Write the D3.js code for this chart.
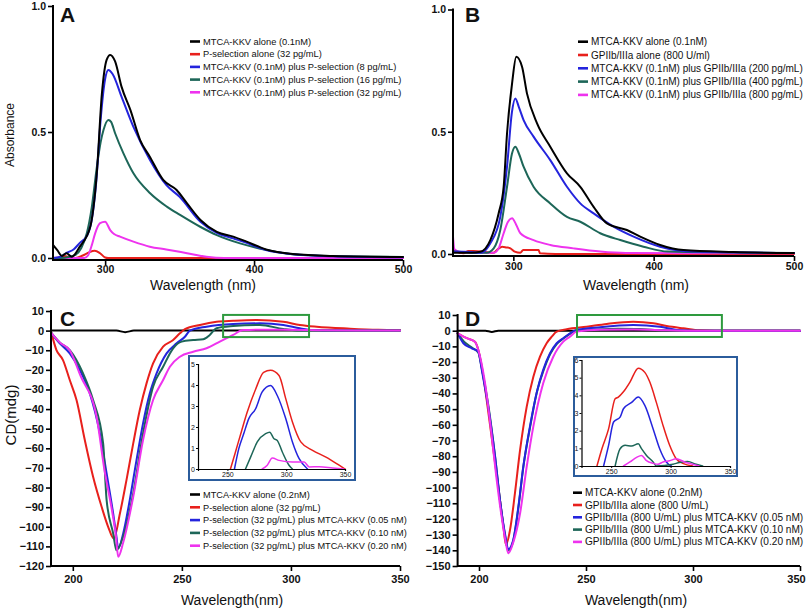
<!DOCTYPE html>
<html><head><meta charset="utf-8">
<script src="https://cdn.jsdelivr.net/npm/d3@7"></script>
<style>body{margin:0;background:#fff} text{font-family:"Liberation Sans",Arial,sans-serif;fill:#111}</style>
</head><body><svg id="c" width="807" height="612"></svg>
<script>
// ---------- DATA ----------
const colors = ["#000000","#e8201c","#2424dd","#1d6658","#ee33ee"];

const legendA = ["MTCA-KKV alone (0.1nM)","P-selection alone (32 pg/mL)","MTCA-KKV (0.1nM) plus P-selection (8 pg/mL)","MTCA-KKV (0.1nM) plus P-selection (16 pg/mL)","MTCA-KKV (0.1nM) plus P-selection (32 pg/mL)"];
const legendB = ["MTCA-KKV alone (0.1nM)","GPIIb/IIIa alone (800 U/ml)","MTCA-KKV (0.1nM) plus GPIIb/IIIa (200 pg/mL)","MTCA-KKV (0.1nM) plus GPIIb/IIIa (400 pg/mL)","MTCA-KKV (0.1nM) plus GPIIb/IIIa (800 pg/mL)"];
const legendC = ["MTCA-KKV alone (0.2nM)","P-selection alone (32 pg/mL)","P-selection (32 pg/mL) plus MTCA-KKV (0.05 nM)","P-selection (32 pg/mL) plus MTCA-KKV (0.10 nM)","P-selection (32 pg/mL) plus MTCA-KKV (0.20 nM)"];
const legendD = ["MTCA-KKV alone (0.2nM)","GPIIb/IIIa alone (800 U/mL)","GPIIb/IIIa (800 U/mL) plus MTCA-KKV (0.05 nM)","GPIIb/IIIa (800 U/mL) plus MTCA-KKV (0.10 nM)","GPIIb/IIIa (800 U/mL) plus MTCA-KKV (0.20 nM)"];

const ticksAbsX = [300,400,500];
const ticksAbsY = [0,0.5,1.0];
const ticksCDX = [200,250,300,350];
const ticksCY = d3.range(-120,11,10);
const ticksDY = d3.range(-150,11,10);
const ticksInsetX = [250,300,350];
const ticksInsetCY = [0,1,2,3,4,5];
const ticksInsetDY = [0,1,2,3,4,5,6];

// Panel A (absorbance)
const aBlack = [[265,0.052],[268,0.03],[271,0.008],[274,0.019],[277.6,0.005],[283,0.045],[290,0.124],[294.4,0.336],[297.8,0.65],[301,0.786],[303.4,0.806],[306.7,0.78],[311,0.68],[317,0.587],[323.5,0.468],[330,0.402],[339,0.31],[348,0.27],[355,0.217],[364,0.151],[375,0.104],[386,0.085],[395,0.065],[408,0.034],[426,0.016],[453,0.008],[500,0.004]];
const aRed = [[265,0],[270,0.002],[273,0.008],[276,0.002],[280,0],[285,0.01],[289,0.022],[293,0.029],[296.6,0.019],[300,0.002],[302,0],[500,0]];
const aBlue = [[265,0],[270,0.005],[274,0.02],[279,0.035],[283,0.06],[288,0.09],[291,0.15],[294,0.3],[297,0.55],[300,0.71],[302.2,0.746],[305,0.73],[311,0.64],[319,0.52],[330,0.39],[341,0.29],[350,0.243],[364,0.144],[375,0.1],[386,0.078],[395,0.06],[408,0.032],[426,0.015],[453,0.007],[500,0.003]];
const aTeal = [[265,0],[271,0],[276,0.005],[280,0.012],[284,0.04],[287.7,0.098],[291,0.2],[294.4,0.36],[297,0.46],[298.9,0.508],[302.2,0.548],[304,0.54],[306.7,0.495],[312.3,0.415],[319,0.336],[330.2,0.257],[341.4,0.204],[350.3,0.171],[363.8,0.124],[375,0.091],[390.6,0.058],[408.5,0.032],[431,0.012],[500,0.004]];
const aMagenta = [[265,0],[286,0],[288.5,0.01],[291,0.05],[293.3,0.098],[296.6,0.138],[300,0.144],[303.4,0.111],[306,0.095],[310,0.085],[319,0.065],[330,0.045],[341,0.034],[355,0.019],[368,0.005],[380,0],[500,0]];

// Panel B (absorbance)
const bBlack = [[257,0.005],[270,0.005],[276.5,0.009],[283.6,0.057],[289.5,0.166],[293.1,0.275],[295.5,0.493],[299.1,0.698],[302.1,0.807],[306.2,0.766],[309.7,0.657],[316.9,0.534],[326.3,0.439],[338.2,0.33],[347.7,0.275],[357.2,0.193],[366.7,0.125],[380.9,0.098],[390.4,0.071],[404.6,0.037],[421.2,0.016],[456.8,0.008],[500,0.004]];
const bRed = [[257,0.02],[258.7,0.012],[264.6,0.003],[268,0.012],[271.7,0.012],[278.9,0.009],[286,0.005],[289,0.02],[292,0.03],[295,0.027],[297.9,0.023],[301,0.01],[305,0.005],[307,0.016],[318,0.016],[319,0.003],[330,0],[500,0]];
const bBlue = [[257,0.01],[270,0.008],[276,0.005],[278.9,0.01],[283.6,0.044],[290.7,0.152],[295.5,0.357],[299,0.58],[301.4,0.636],[304,0.6],[307.3,0.548],[314.4,0.48],[326.3,0.384],[338.2,0.275],[347.7,0.207],[357.2,0.166],[371.4,0.112],[385.7,0.071],[404.6,0.03],[430,0.01],[500,0.004]];
const bTeal = [[257,0.01],[276,0.005],[281,0.005],[286,0.023],[290.7,0.098],[295.5,0.275],[299,0.41],[301.4,0.439],[304,0.41],[307.3,0.357],[314.4,0.275],[326.3,0.207],[338.2,0.152],[347.7,0.132],[361.9,0.085],[376.2,0.057],[392.7,0.03],[410,0.01],[500,0.004]];
const bMagenta = [[257,0.07],[258,0.02],[262,0.008],[275,0.005],[286,0.005],[289.5,0.023],[293.1,0.085],[296,0.13],[299.1,0.146],[302,0.12],[305,0.085],[314.4,0.057],[326.3,0.037],[342.9,0.023],[361.9,0.01],[380,0.004],[500,0.003]];

// Panel C (CD)
const cBlack = [[190,0],[220,0],[224,-0.8],[228,0],[350,0]];
const cRed = [[190,-0.5],[192.5,-9.9],[195.5,-15],[198.6,-25.2],[201.7,-35.4],[205.5,-55.8],[209.3,-74.5],[213.2,-89.8],[216.2,-100],[218.8,-106],[221.6,-93.2],[224.6,-76.2],[227.7,-57.5],[230.7,-40.5],[233.8,-26.9],[236.8,-16.7],[241.4,-8.2],[246,-4.8],[249.1,-1.4],[251.4,0.7],[258.3,2.9],[265.9,4.5],[273.5,5],[284.3,5.4],[296.5,4.5],[304.1,2.9],[311.8,2],[327.1,1],[340,0.4],[350,0.2]];
const cBlue = [[190,-1],[194,-6.5],[198.6,-11.6],[203.2,-20.1],[207.8,-32],[212.4,-52.4],[215.5,-72.8],[218.5,-93.2],[220,-105],[220.8,-111],[223.1,-103.4],[226.1,-86.4],[229.2,-66],[232.2,-47.3],[235.3,-32],[238.4,-21.8],[243,-11.6],[247.6,-6.5],[251.4,-3.1],[253.7,0],[261.3,2],[273.5,3.4],[285.8,3.7],[296.5,2.9],[304.1,1.2],[310,0.3],[320,0],[350,0]];
const cTeal = [[190,-1],[194,-6],[198.6,-9.9],[204.7,-21.8],[209.3,-35.4],[213.9,-57.5],[215.5,-86.4],[218.5,-103.4],[220,-112],[223.1,-105],[227.7,-83],[232.2,-52.4],[236.8,-28.6],[241.4,-18.4],[246,-9],[249.9,-5.6],[255.2,-4.8],[259.8,-4.4],[262.8,-2.2],[265.9,1.2],[273.5,2.3],[285.8,2.9],[296.5,0.8],[304.1,0],[350,0]];
const cMagenta = [[190,-1],[194,-6],[198.6,-10],[203.5,-23],[210.9,-43.9],[214.5,-71],[218,-92],[219.8,-105],[220.8,-115.3],[223.1,-108],[227.7,-84.7],[232.2,-55.8],[236.8,-35.4],[241.4,-25.2],[244.5,-18.4],[249.1,-13.3],[255.2,-10.8],[261.3,-9],[267.4,-5.6],[273.5,-2.2],[278.1,0.3],[285.8,0.5],[296.5,0.4],[307,0.3],[330,0.1],[350,0]];

// Panel D (CD)
const dBlack = [[190,0],[203,0],[206,-0.8],[209,0],[350,0]];
const dRed = [[190,-1.7],[194.3,-4.8],[198.1,-7],[199.7,-12.3],[201.3,-22.9],[203.6,-44.2],[206.7,-76],[209,-99.4],[211.4,-124.9],[212.6,-136.6],[214.5,-127],[216.8,-103.6],[219.2,-76],[222.3,-48.4],[225.4,-29.3],[228.5,-16.6],[231.6,-8],[234,-3.8],[236.3,-0.6],[241,0.9],[250.3,2.5],[259.7,4.3],[272.1,5.7],[281.5,4.7],[287.7,3],[295.5,1.5],[303.3,0.2],[310,0],[350,0]];
const dBlue = [[190,-1.7],[192.7,-8],[196.6,-11.2],[199.7,-13.4],[201.3,-25],[204.3,-48.4],[207.5,-80.3],[209.8,-107.9],[212.1,-129.1],[213.7,-139.3],[216,-133.4],[218.4,-112.2],[220.7,-86.7],[223.8,-61.2],[226.9,-39.9],[230,-25],[233.2,-14.4],[236.3,-8],[239.4,-4.8],[242.5,-1.7],[244.9,0.2],[256.5,2.2],[272.1,3.6],[284.6,2.5],[292.4,0.5],[300,0],[350,0]];
const dTeal = [[190,-1.7],[193,-7],[197,-11],[199.7,-14],[201.3,-24],[204.3,-47],[207.5,-80],[209.8,-108],[212.1,-130],[213.7,-140],[216,-134],[218.4,-113],[220.7,-87],[223.8,-62],[226.9,-40],[230,-26],[233.2,-15],[236.3,-8.5],[239.4,-5],[242.5,-2],[245,0],[255,0.8],[265,1.2],[275,1.1],[285,0.3],[295,0],[350,0]];
const dMagenta = [[190,-1.7],[194.3,-4.8],[198.1,-7],[200.5,-16.6],[203,-35],[205.5,-62],[208,-92],[210.5,-118],[212.5,-135],[213.7,-141.9],[216,-135],[219.2,-116.4],[222.3,-86.7],[225.4,-61],[230,-33.5],[234.7,-16.6],[239.4,-7],[242.5,-3.8],[245.6,-0.6],[256.5,0.6],[272.1,0.7],[287.7,0.3],[300,0],[350,0]];

// Insets (zoom of positive CD band)
const icRed = [[252.6,0],[256.8,0.8],[262,1.8],[266.8,2.7],[274,3.8],[280.8,4.6],[286.7,4.7],[293.9,4.45],[299.6,3.35],[305.3,2.24],[312.4,1.29],[322.4,0.89],[333.8,0.57],[345,0.18],[350,0]];
const icBlue = [[256,0],[259.7,0.97],[264,1.7],[268.2,2.4],[274,2.87],[279.6,3.67],[286.7,3.98],[292.4,3.5],[299.6,2.4],[305.3,1.29],[311,0.49],[318.1,0]];
const icTeal = [[265.4,0],[270,0.6],[275.4,1.29],[282.5,1.68],[286,1.75],[289.6,1.44],[292.4,1.36],[296.7,0.81],[302.4,0.18],[305.3,0]];
const icMagenta = [[279.6,0],[283.9,0.18],[288.2,0.52],[294,0.41],[305.3,0.33],[315.3,0.33],[319.6,0.1],[328.1,0.11],[339.5,0.05],[349,0]];
const idRed = [[238,0],[242.2,0.98],[247.8,2.1],[253.3,3.8],[256,3.9],[260.3,4.2],[265.8,4.75],[272.8,5.54],[278.3,5.3],[282.5,4.75],[288,3.6],[293.6,2.3],[299.2,1.17],[304.7,0.41],[310.3,0.15],[318.6,0]];
const idBlue = [[243.6,0],[247.8,1.17],[252,2.49],[257.5,2.77],[260.3,3.24],[267.2,3.6],[272.8,3.9],[278.3,3.43],[285.3,2.1],[290.8,0.98],[296.4,0.23],[300.6,0]];
const idTeal = [[253.3,0],[257.5,0.98],[261.7,1.17],[267.2,1.13],[272.8,1.26],[275.5,0.98],[279.7,0.6],[285.3,0.23],[288,0],[302,0.1],[307.5,0.2],[314.4,0.25],[321.4,0.1],[327,0]];
const idMagenta = [[260.3,0],[265.8,0.23],[271.4,0.49],[275.5,0.6],[279.7,0.3],[285.3,0.15],[289.4,0.1],[293.6,0.23],[299.2,0.3],[304.7,0.41],[311.7,0.23],[318.6,0.1],[324,0]];

// ---------- DRAWING ----------
const svg = d3.select("#c");

function drawLine(g, x, y, data, color, w){
  g.append("path").datum(data)
    .attr("d", d3.line().x(d=>x(d[0])).y(d=>y(d[1])).curve(d3.curveMonotoneX))
    .attr("fill","none").attr("stroke",color).attr("stroke-width",w)
    .attr("stroke-linejoin","round").attr("stroke-linecap","round");
}

function styleAxis(g, fs){
  g.select(".domain").remove();
  g.selectAll(".tick line").attr("stroke","#000").attr("stroke-width",1.6);
  g.selectAll(".tick text").style("font-size",fs+"px").style("font-weight","bold").attr("fill","#1a1a1a");
}

function panel(o){
  const g = svg.append("g");
  const x = d3.scaleLinear().domain(o.xd).range(o.xr);
  const y = d3.scaleLinear().domain(o.yd).range(o.yr);
  const axY = o.axisY;
  o.order.forEach(i => drawLine(g, x, y, o.series[i], colors[i], 2));
  const gx = g.append("g").attr("transform",`translate(0,${axY})`)
    .call(d3.axisBottom(x).tickValues(o.xt).tickSize(5).tickPadding(o.xpad).tickFormat(d3.format("d")));
  styleAxis(gx, o.tfs);
  if (o.lastShift) gx.selectAll(".tick text").filter(d=>d===o.xt[o.xt.length-1]).attr("dx", o.lastShift);
  const gy = g.append("g").attr("transform",`translate(${o.xr[0]},0)`)
    .call(d3.axisLeft(y).tickValues(o.yt).tickSize(5).tickPadding(2).tickFormat(o.yf));
  styleAxis(gy, o.tfs);
  g.append("line").attr("x1",o.xr[0]).attr("x2",o.xr[1]).attr("y1",axY).attr("y2",axY).attr("stroke","#000").attr("stroke-width",2);
  g.append("line").attr("x1",o.xr[0]).attr("x2",o.xr[0]).attr("y1",axY+1).attr("y2",y(o.yd[1])-1).attr("stroke","#000").attr("stroke-width",2);
  g.append("text").attr("x",o.xtitle[0]).attr("y",o.xtitle[1]).attr("text-anchor","middle").style("font-size","14px").text(o.xlabel);
  if (o.ylabel) g.append("text").attr("transform",`translate(${o.ytitle[0]},${o.ytitle[1]}) rotate(-90)`).attr("text-anchor","middle").style("font-size",o.yfs+"px").text(o.ylabel);
  g.append("text").attr("x",o.letter[0]).attr("y",o.letter[1]).style("font-size","21px").style("font-weight","bold").attr("fill","#000").text(o.letterText);
  o.legend.forEach((t,i)=>{
    const yy = o.leg.y + i*o.leg.dy;
    g.append("line").attr("x1",o.leg.x).attr("x2",o.leg.x+o.leg.len).attr("y1",yy).attr("y2",yy).attr("stroke",colors[i]).attr("stroke-width",2.6);
    g.append("text").attr("x",o.leg.x+o.leg.len+3).attr("y",yy).attr("dy","0.35em").style("font-size",o.leg.fs+"px").text(t);
  });
  return {g,x,y};
}

function inset(o){
  const g = svg.append("g");
  g.append("rect").attr("x",o.box[0]).attr("y",o.box[1]).attr("width",o.box[2]).attr("height",o.box[3])
    .attr("fill","#fff").attr("stroke","#2b5c9c").attr("stroke-width",2);
  const x = d3.scaleLinear().domain(o.xd).range(o.xr);
  const y = d3.scaleLinear().domain(o.yd).range(o.yr);
  o.series.forEach((s,k)=> drawLine(g, x, y, s, colors[k+1], 1.5));
  const gx = g.append("g").attr("transform",`translate(0,${o.yr[0]})`)
    .call(d3.axisBottom(x).tickValues(ticksInsetX).tickSize(2).tickPadding(1).tickFormat(d3.format("d")));
  gx.select(".domain").attr("stroke","#000").attr("stroke-width",1.2);
  gx.selectAll(".tick text").style("font-size","7px").attr("fill","#222");
  const gy = g.append("g").attr("transform",`translate(${o.xr[0]},0)`)
    .call(d3.axisLeft(y).tickValues(o.yt).tickSize(2).tickPadding(1).tickFormat(d3.format("d")));
  gy.select(".domain").attr("stroke","#000").attr("stroke-width",1.2);
  gy.selectAll(".tick text").style("font-size","7px").attr("fill","#222");
}

// Panel A
panel({xd:[265,500], xr:[53,403], yd:[0,1], yr:[258,6], axisY:260, xt:ticksAbsX, yt:ticksAbsY, yf:d3.format(".1f"), xpad:1, tfs:10.5,
  series:[aBlack,aRed,aBlue,aTeal,aMagenta], order:[1,4,3,2,0],
  xlabel:"Wavelength (nm)", xtitle:[203,290], ylabel:"Absorbance", ytitle:[14,135], yfs:12,
  letter:[60,22], letterText:"A", legend:legendA, leg:{x:190,len:10,y:41.5,dy:12.7,fs:9.3}});

// Panel B
panel({xd:[257,500], xr:[453,794], yd:[0,1], yr:[254,9.5], axisY:256, xt:ticksAbsX, yt:ticksAbsY, yf:d3.format(".1f"), xpad:2, tfs:10.5,
  series:[bBlack,bRed,bBlue,bTeal,bMagenta], order:[1,4,3,2,0],
  xlabel:"Wavelength (nm)", xtitle:[636,290], ylabel:null,
  letter:[465,22], letterText:"B", legend:legendB, leg:{x:578,len:10,y:41.7,dy:13.3,fs:10}});

// Panel C
const pc = panel({xd:[190,350], xr:[51,400], yd:[-120,10], yr:[566,311], axisY:566, xt:ticksCDX, yt:ticksCY, yf:d3.format("d"), xpad:4, tfs:11,
  series:[cBlack,cRed,cBlue,cTeal,cMagenta], order:[0,1,2,3,4],
  xlabel:"Wavelength(nm)", xtitle:[232,605], ylabel:"CD(mdg)", ytitle:[16,415], yfs:15,
  letter:[60,326], letterText:"C", legend:legendC, leg:{x:190,len:10,y:494.5,dy:12.8,fs:9.2}});
pc.g.append("rect").attr("x",pc.x(268.9)).attr("y",pc.y(8)).attr("width",pc.x(308.3)-pc.x(268.9)).attr("height",pc.y(-3.3)-pc.y(8))
  .attr("fill","none").attr("stroke","#2e9a3e").attr("stroke-width",2);

// Panel D
const pd = panel({xd:[190,350], xr:[457.6,800], yd:[-150,10], yr:[566,315], axisY:566, xt:ticksCDX, yt:ticksDY, yf:d3.format("d"), xpad:4, tfs:11, lastShift:-4,
  series:[dBlack,dRed,dBlue,dTeal,dMagenta], order:[0,1,3,2,4],
  xlabel:"Wavelength(nm)", xtitle:[636,605], ylabel:null,
  letter:[465,326], letterText:"D", legend:legendD, leg:{x:573,len:9,y:492.7,dy:12.3,fs:10.1}});
pd.g.append("rect").attr("x",pd.x(245.8)).attr("y",pd.y(10)).attr("width",pd.x(313.5)-pd.x(245.8)).attr("height",pd.y(-4)-pd.y(10))
  .attr("fill","none").attr("stroke","#2e9a3e").attr("stroke-width",2);

// Insets
inset({box:[189,356,166,124], xd:[225,350], xr:[198,345], yd:[0,5], yr:[469,364], yt:ticksInsetCY,
  series:[icRed,icBlue,icTeal,icMagenta]});
inset({box:[574,357,163,119], xd:[225,350], xr:[581.5,730], yd:[0,6], yr:[466,360], yt:ticksInsetDY,
  series:[idRed,idBlue,idTeal,idMagenta]});
</script></body></html>
